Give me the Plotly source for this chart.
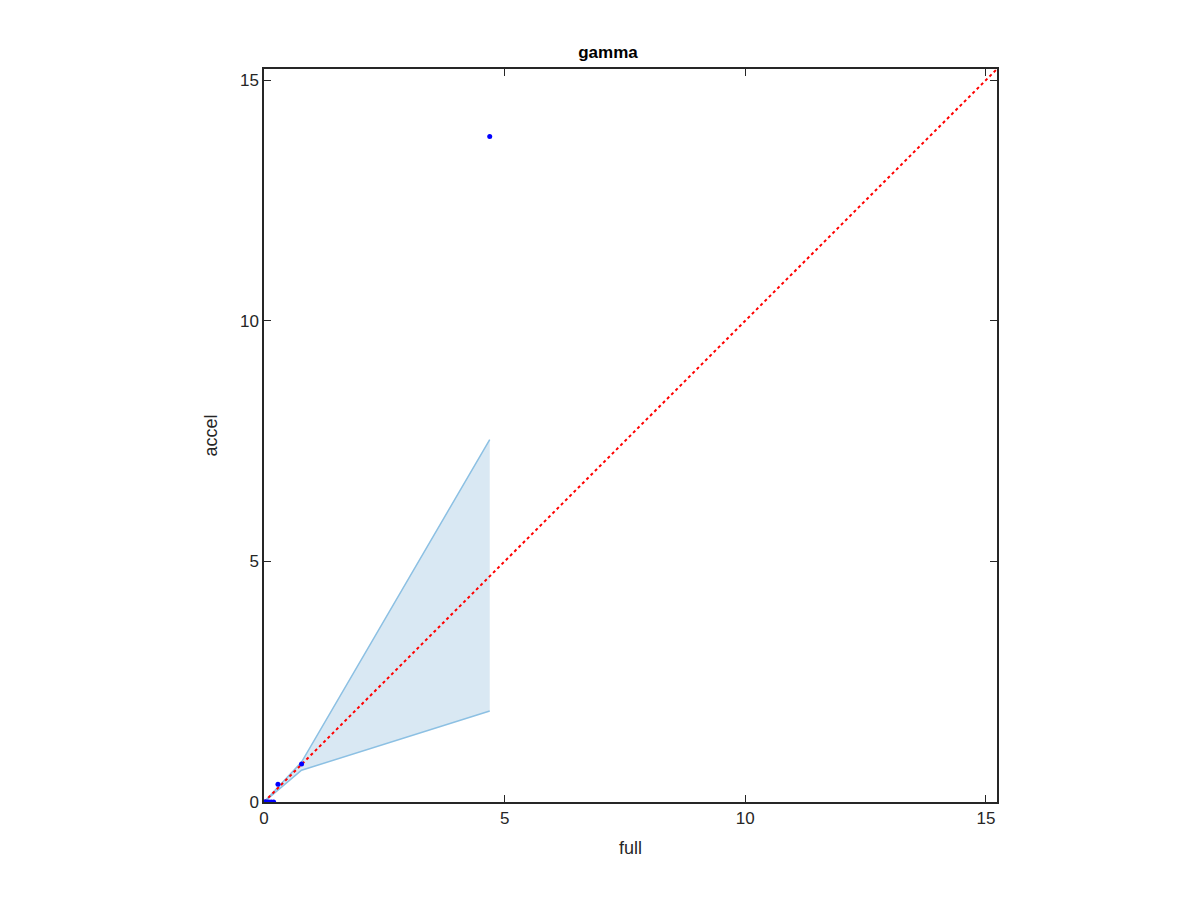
import plotly.graph_objects as go

# data
pts_x = [0.0, 0.03, 0.06, 0.1, 0.15, 0.2, 0.29, 0.78, 4.69]
pts_y = [0.0, 0.0, 0.0, 0.0, 0.0, 0.0, 0.37, 0.79, 13.83]
band_x = [0.0, 0.78, 4.69]
band_upper = [0.0, 0.83, 7.53]
band_lower = [0.0, 0.66, 1.89]
diag = [0.0, 15.23]
x_ticks = [0, 5, 10, 15]
y_ticks = [0, 5, 10, 15]

fig = go.Figure()
fig.add_trace(go.Scatter(
    x=band_x + band_x[::-1], y=band_upper + band_lower[::-1],
    fill='toself', fillcolor='rgba(217,232,243,1)',
    line=dict(color='rgba(0,0,0,0)'), mode='lines', hoverinfo='skip', showlegend=False))
fig.add_trace(go.Scatter(x=band_x, y=band_upper, mode='lines',
                         line=dict(color='#8cc0e3', width=1.5), showlegend=False))
fig.add_trace(go.Scatter(x=band_x, y=band_lower, mode='lines',
                         line=dict(color='#8cc0e3', width=1.5), showlegend=False))
fig.add_trace(go.Scatter(x=diag, y=diag, mode='lines',
                         line=dict(color='red', width=2, dash='dot'), showlegend=False))
fig.add_trace(go.Scatter(x=pts_x, y=pts_y, mode='markers',
                         marker=dict(color='blue', size=5), showlegend=False))

axis_common = dict(range=[0, 15.23], showgrid=False, zeroline=False,
                   showline=True, linecolor='#262626', linewidth=1.5,
                   mirror='allticks', ticks='inside', ticklen=7, tickcolor='#262626',
                   tickfont=dict(size=17, color='#262626'))
fig.update_layout(
    width=1200, height=900,
    paper_bgcolor='white', plot_bgcolor='white',
    font=dict(family='Liberation Sans, Arial, sans-serif', color='#262626'),
    margin=dict(l=256, r=211, t=61, b=106),
    title=dict(text='<b>gamma</b>', x=0.5, xanchor='center', y=0.951, yanchor='middle',
               font=dict(size=17, color='black')),
    xaxis=dict(axis_common, tickvals=x_ticks, title=dict(text='full', font=dict(size=18), standoff=14)),
    yaxis=dict(axis_common, tickvals=y_ticks, title=dict(text='accel', font=dict(size=18), standoff=18)),
)
fig.write_html("out.html")
